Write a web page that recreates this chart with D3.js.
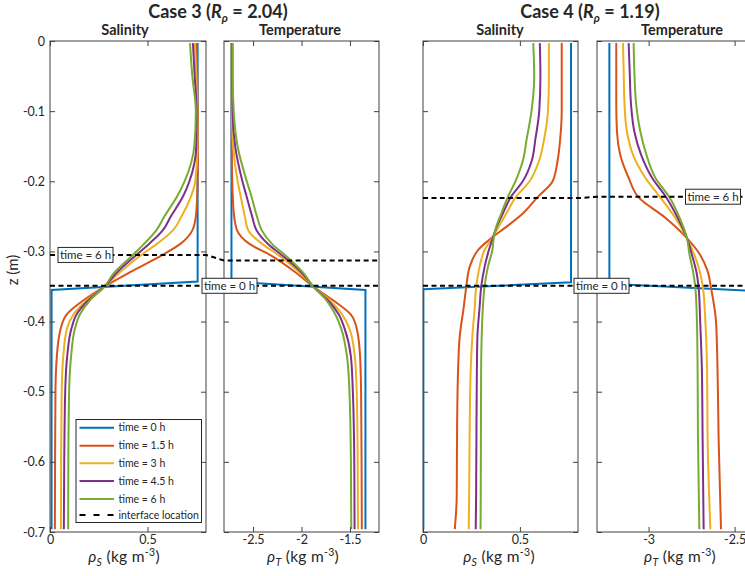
<!DOCTYPE html>
<html><head><meta charset="utf-8">
<script src="https://cdn.jsdelivr.net/npm/d3@7"></script>
<style>
body{margin:0;background:#fff}
text{font-family:Lato,"Open Sans",sans-serif;fill:#262626}
</style>
</head><body>
<svg id="c" width="745" height="576"></svg>
<script>
// ---------- data ----------
const seriesNames = ["time = 0 h","time = 1.5 h","time = 3 h","time = 4.5 h","time = 6 h"];
const seriesColors = ["#0072BD","#D95319","#EDB120","#7E2F8E","#77AC30"];
const yTicks = [0,-0.1,-0.2,-0.3,-0.4,-0.5,-0.6,-0.7];
const yTickLabels = ["0","-0.1","-0.2","-0.3","-0.4","-0.5","-0.6","-0.7"];

// Case 3 (R_rho = 2.04)
const depth3 = [-0.003,-0.05,-0.1,-0.15,-0.2,-0.22,-0.25,-0.27,-0.29,-0.305,-0.33,-0.35,-0.37,-0.39,-0.41,-0.45,-0.5,-0.6,-0.696];
const blueZ3 = [-0.003,-0.343,-0.355,-0.696];
const c3SalBlue = [0.757,0.757,0.008,0.008];
const c3SalRed    = [0.752,0.755,0.757,0.758,0.757,0.755,0.748,0.73,0.665,0.577,0.408,0.28,0.17,0.085,0.055,0.035,0.028,0.026,0.025];
const c3SalYellow = [0.743,0.75,0.755,0.756,0.745,0.725,0.675,0.63,0.545,0.468,0.357,0.28,0.187,0.12,0.087,0.068,0.06,0.057,0.056];
const c3SalPurple = [0.733,0.742,0.752,0.75,0.715,0.685,0.62,0.578,0.505,0.443,0.343,0.28,0.195,0.136,0.11,0.088,0.078,0.073,0.071];
const c3SalGreen  = [0.718,0.73,0.748,0.74,0.69,0.655,0.587,0.545,0.48,0.425,0.33,0.28,0.204,0.153,0.128,0.108,0.098,0.094,0.093];
const c3TempBlue = [-2.723,-2.723,-1.34,-1.34];
const c3TempRed    = [-2.72,-2.72,-2.72,-2.72,-2.715,-2.71,-2.695,-2.665,-2.53,-2.326,-2.06,-1.879,-1.67,-1.49,-1.43,-1.395,-1.385,-1.38,-1.377];
const c3TempYellow = [-2.72,-2.72,-2.718,-2.705,-2.66,-2.63,-2.585,-2.55,-2.4,-2.24,-2.02,-1.879,-1.705,-1.58,-1.505,-1.45,-1.43,-1.42,-1.417];
const c3TempPurple = [-2.715,-2.715,-2.712,-2.685,-2.61,-2.57,-2.51,-2.463,-2.34,-2.205,-2.0,-1.879,-1.725,-1.615,-1.555,-1.49,-1.47,-1.455,-1.452];
const c3TempGreen  = [-2.71,-2.71,-2.70,-2.66,-2.565,-2.52,-2.46,-2.41,-2.3,-2.171,-1.985,-1.879,-1.74,-1.65,-1.59,-1.53,-1.505,-1.49,-1.486];
const c3Interface = [-0.349,-0.305,-0.313]; // time 0, time 6 h (salinity), time 6 h (temperature)

// Case 4 (R_rho = 1.19)
const depth4 = [-0.003,-0.05,-0.1,-0.14,-0.17,-0.2,-0.223,-0.246,-0.265,-0.279,-0.298,-0.322,-0.349,-0.38,-0.42,-0.47,-0.55,-0.65,-0.696];
const blueZ4 = [-0.003,-0.344,-0.354,-0.696];
const c4SalBlue = [0.764,0.764,0.002,0.002];
const c4SalRed    = [0.716,0.716,0.716,0.708,0.695,0.669,0.59,0.515,0.43,0.362,0.284,0.241,0.224,0.21,0.19,0.181,0.176,0.174,0.164];
const c4SalYellow = [0.65,0.65,0.645,0.625,0.6,0.55,0.478,0.43,0.39,0.362,0.318,0.292,0.275,0.267,0.255,0.246,0.241,0.238,0.236];
const c4SalPurple = [0.603,0.606,0.6,0.58,0.562,0.515,0.452,0.412,0.38,0.362,0.34,0.318,0.301,0.292,0.281,0.278,0.276,0.274,0.272];
const c4SalGreen  = [0.569,0.574,0.56,0.535,0.516,0.477,0.437,0.404,0.378,0.366,0.358,0.335,0.318,0.309,0.303,0.3,0.299,0.298,0.297];
const depth4T = [-0.003,-0.043,-0.091,-0.129,-0.162,-0.195,-0.223,-0.252,-0.281,-0.305,-0.328,-0.352,-0.4,-0.471,-0.566,-0.696];
const blueZ4T = [-0.003,-0.346,-0.356,-0.696];
const c4TempBlue = [-3.228,-3.228,-2.42,-2.42];
const c4TempRed    = [-3.188,-3.188,-3.188,-3.184,-3.165,-3.116,-3.058,-2.903,-2.777,-2.7,-2.657,-2.637,-2.608,-2.599,-2.593,-2.579];
const c4TempYellow = [-3.149,-3.145,-3.14,-3.126,-3.091,-3.019,-2.932,-2.845,-2.777,-2.734,-2.703,-2.684,-2.67,-2.66,-2.657,-2.641];
const c4TempPurple = [-3.116,-3.11,-3.102,-3.083,-3.044,-2.98,-2.897,-2.831,-2.777,-2.748,-2.723,-2.709,-2.7,-2.69,-2.686,-2.68];
const c4TempGreen  = [-3.087,-3.083,-3.072,-3.048,-3.013,-2.961,-2.878,-2.82,-2.777,-2.762,-2.742,-2.728,-2.719,-2.715,-2.713,-2.705];
const c4Interface = [-0.349,-0.224,-0.222];

// ---------- layout ----------
const svg = d3.select("#c");
const TOP = 41, BOT = 532;
const y = d3.scaleLinear().domain([0,-0.7]).range([TOP,BOT]);
const AX = "#404040";

const panels = [
  {x0:50,  x1:206, dom:[0,0.8],     ticks:[0,0.5],      labels:["0","0.5"],         sub:"Salinity",    subX:125, xl:"S", xlX:124, yl:true,
   blue:[blueZ3,c3SalBlue], depth:depth3, curves:[c3SalRed,c3SalYellow,c3SalPurple,c3SalGreen]},
  {x0:224, x1:379, dom:[-2.8,-1.2], ticks:[-2.5,-2,-1.5], labels:["-2.5","-2","-1.5"], sub:"Temperature", subX:300, xl:"T", xlX:303, yl:false,
   blue:[blueZ3,c3TempBlue], depth:depth3, curves:[c3TempRed,c3TempYellow,c3TempPurple,c3TempGreen]},
  {x0:423, x1:578, dom:[0,0.8],     ticks:[0,0.5],      labels:["0","0.5"],         sub:"Salinity",    subX:500, xl:"S", xlX:499, yl:false,
   blue:[blueZ4,c4SalBlue], depth:depth4, curves:[c4SalRed,c4SalYellow,c4SalPurple,c4SalGreen]},
  {x0:597, x1:769, dom:[-3.3,-2.3], ticks:[-3,-2.5],    labels:["-3","-2.5"],       sub:"Temperature", subX:682, xl:"T", xlX:680, yl:false,
   blue:[blueZ4T,c4TempBlue], depth:depth4T, curves:[c4TempRed,c4TempYellow,c4TempPurple,c4TempGreen]}
];

const defs = svg.append("defs");
panels.forEach((p,i)=>{
  p.x = d3.scaleLinear().domain(p.dom).range([p.x0,p.x1]);
  defs.append("clipPath").attr("id","clip"+i).append("rect")
    .attr("x",p.x0).attr("y",TOP).attr("width",p.x1-p.x0).attr("height",BOT-TOP);
});

const TL = 5;
panels.forEach((p,i)=>{
  const g = svg.append("g");
  const cg = g.append("g").attr("clip-path",`url(#clip${i})`);
  const lineLin = d3.line().x(d=>p.x(d[0])).y(d=>y(d[1]));
  const lineSm = d3.line().x(d=>p.x(d[0])).y(d=>y(d[1])).curve(d3.curveMonotoneY);
  const bz = p.blue[0], bv = p.blue[1];
  cg.append("path").datum(bv.map((v,j)=>[v,bz[j]]))
    .attr("d",lineLin).attr("fill","none").attr("stroke",seriesColors[0]).attr("stroke-width",2);
  p.curves.forEach((arr,k)=>{
    cg.append("path").datum(arr.map((v,j)=>[v,p.depth[j]]))
      .attr("d",lineSm).attr("fill","none").attr("stroke",seriesColors[k+1]).attr("stroke-width",2);
  });

  const ax = g.append("g");
  ax.append("g").attr("transform",`translate(0,${BOT})`)
    .call(d3.axisBottom(p.x).tickValues(p.ticks).tickFormat((d,j)=>p.labels[j]).tickSizeInner(-TL).tickSizeOuter(0).tickPadding(3));
  ax.append("g").attr("transform",`translate(0,${TOP})`)
    .call(d3.axisTop(p.x).tickValues(p.ticks).tickFormat("").tickSizeInner(-TL).tickSizeOuter(0));
  ax.append("g").attr("transform",`translate(${p.x0},0)`)
    .call(d3.axisLeft(y).tickValues(yTicks).tickFormat((d,j)=>p.yl?yTickLabels[j]:"").tickSizeInner(-TL).tickSizeOuter(0).tickPadding(5));
  ax.append("g").attr("transform",`translate(${p.x1},0)`)
    .call(d3.axisRight(y).tickValues(yTicks).tickFormat("").tickSizeInner(-TL).tickSizeOuter(0));
  ax.selectAll(".domain").remove();
  ax.selectAll(".tick line").attr("stroke",AX);
  ax.selectAll(".tick text").style("font-size","12.5px").attr("fill","#262626");
  g.append("rect").attr("x",p.x0).attr("y",TOP).attr("width",p.x1-p.x0).attr("height",BOT-TOP)
    .attr("fill","none").attr("stroke",AX).attr("stroke-width",1);

  svg.append("text").attr("x",p.subX).attr("y",34.5).attr("text-anchor","middle")
    .style("font-size","14.5px").style("font-weight","bold").text(p.sub);
  const t = svg.append("text").attr("x",p.xlX).attr("y",562).attr("text-anchor","middle")
    .style("font-size","15.5px").style("letter-spacing","0.3px");
  t.append("tspan").style("font-style","italic").text("ρ");
  t.append("tspan").attr("dy",4).style("font-size","10.5px").style("font-style","italic").text(p.xl);
  t.append("tspan").attr("dy",-4).text(" (kg m");
  t.append("tspan").attr("dy",-6).style("font-size","10.5px").text("-3");
  t.append("tspan").attr("dy",6).text(")");
});

// interface lines
function iface(pa, pb, vals){
  const d0 = [[pa.x0,y(vals[0])],[pb.x1,y(vals[0])]];
  const d6 = [[pa.x0,y(vals[1])],[pa.x1,y(vals[1])],[pb.x0,y(vals[2])],[pb.x1,y(vals[2])]];
  [d0,d6].forEach(d=>{
    svg.append("path").attr("d",d3.line()(d)).attr("fill","none").attr("stroke","#000")
      .attr("stroke-width",2).attr("stroke-dasharray","5,3.5");
  });
}
iface(panels[0],panels[1],c3Interface);
iface(panels[2],panels[3],c4Interface);

function tag(cx, zv, txt){
  const w = 55, h = 15;
  const g = svg.append("g");
  g.append("rect").attr("x",cx-w/2).attr("y",y(zv)-h/2).attr("width",w).attr("height",h)
    .attr("fill","#fff").attr("stroke","#262626").attr("stroke-width",1);
  g.append("text").attr("x",cx).attr("y",y(zv)+4).attr("text-anchor","middle")
    .style("font-size","11.5px").text(txt);
}
tag(85.5, c3Interface[1], "time = 6 h");
tag(229.5, c3Interface[0], "time = 0 h");
tag(601.5, c4Interface[0], "time = 0 h");
tag(713, c4Interface[2], "time = 6 h");

// legend
const lg = svg.append("g");
lg.append("rect").attr("x",76).attr("y",419.5).attr("width",125.5).attr("height",103)
  .attr("fill","#fff").attr("stroke","#262626").attr("stroke-width",1);
const rowsY = [427.7,445.7,463.3,481,499];
seriesNames.forEach((n,k)=>{
  lg.append("line").attr("x1",79.5).attr("x2",114).attr("y1",rowsY[k]).attr("y2",rowsY[k])
    .attr("stroke",seriesColors[k]).attr("stroke-width",2);
  lg.append("text").attr("x",118.5).attr("y",rowsY[k]+3.5).style("font-size","10.5px").text(n);
});
lg.append("line").attr("x1",79.5).attr("x2",114).attr("y1",515).attr("y2",515)
  .attr("stroke","#000").attr("stroke-width",2).attr("stroke-dasharray","6,8");
lg.append("text").attr("x",118.5).attr("y",518.5).style("font-size","10.5px").text("interface location");

// titles
function title(cx, rho){
  const t = svg.append("text").attr("x",cx).attr("y",17.5).attr("text-anchor","middle")
    .style("font-size","18px").style("font-weight","bold");
  t.append("tspan").text(rho[0]);
  t.append("tspan").style("font-style","italic").text("R");
  t.append("tspan").attr("dy",4).style("font-size","11.5px").style("font-style","italic").text("ρ");
  t.append("tspan").attr("dy",-4).text("  = " + rho[1]);
}
title(218, ["Case 3 (","2.04)"]);
title(590, ["Case 4 (","1.19)"]);

// y label
svg.append("text").attr("transform","translate(18,270) rotate(-90)").attr("text-anchor","middle")
  .style("font-size","15px").text("z (m)");
</script>
</body></html>
